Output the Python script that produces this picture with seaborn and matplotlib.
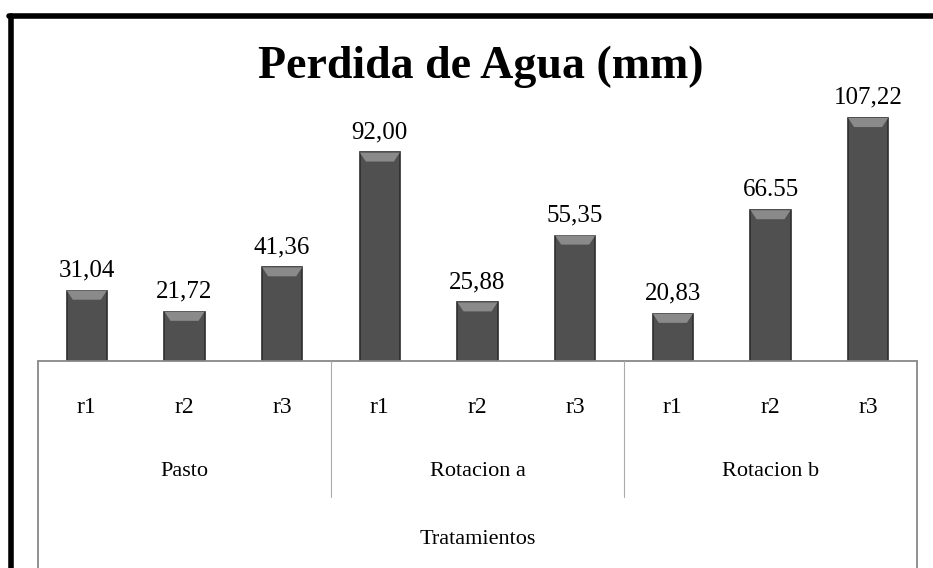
#!/usr/bin/env python3

from matplotlib import pyplot as plt
from matplotlib.lines import Line2D
import numpy as np
import pandas as pd
import seaborn as sns

groups = ['Pasto', 'Rotacion a', 'Rotacion b']
reps = ['r1', 'r2', 'r3']
values = [31.04, 21.72, 41.36, 92.00, 25.88, 55.35, 20.83, 66.55, 107.22]
labels = ['31,04', '21,72', '41,36', '92,00', '25,88', '55,35', '20,83', '66.55', '107,22']
axis_title = 'Tratamientos'

sns.set_style('white')
plt.rcParams['font.family'] = ['Liberation Serif', 'DejaVu Serif']
plt.rcParams['text.color'] = 'black'
plt.rcParams['xtick.color'] = 'black'

df = pd.DataFrame({
    'slot': [g + ' ' + r for g in groups for r in reps],
    'value': values,
})

W, H = 933, 568
fig = plt.figure(figsize=(W / 100, H / 100), dpi=100)
ax = fig.add_axes([38 / W, (H - 361) / H, 879 / W, 301 / H])

sns.barplot(data=df, x='slot', y='value', color='#505050', width=0.41,
            edgecolor='#2e2e2e', linewidth=1.2, saturation=1, ax=ax)

# light bevel strip on top of each bar
for p in ax.patches:
    x0, w, h = p.get_x(), p.get_width(), p.get_height()
    ax.fill([x0, x0 + w, x0 + w * 0.85, x0 + w * 0.15],
            [h, h, h - 4, h - 4], color='#8a8a8a', lw=0, zorder=3)

for i, lab in enumerate(labels):
    ax.text(i, values[i] + 4, lab, ha='center', va='bottom', fontsize=18)

ax.set_xlim(-0.5, 8.5)
ax.set_ylim(0, 132.8)
ax.set_xlabel('')
ax.set_ylabel('')
ax.set_yticks([])
ax.set_xticks(range(9))
ax.set_xticklabels(reps * 3, fontsize=17)
ax.tick_params(axis='x', length=0, pad=26)
sns.despine(ax=ax, left=True, right=True, top=True, bottom=True)

# category table under the axis
grey = '#888888'
kw = dict(transform=ax.transAxes, color=grey, lw=1.3, clip_on=False)
ax.add_line(Line2D([0, 1], [0, 0], **kw))
ax.add_line(Line2D([0, 0], [0, -0.7], **kw))
ax.add_line(Line2D([1, 1], [0, -0.7], **kw))
for xd in (1 / 3, 2 / 3):
    ax.add_line(Line2D([xd, xd], [0, -136 / 301], lw=0.8, transform=ax.transAxes,
                       color='#aaaaaa', clip_on=False))
for k, g in enumerate(groups):
    ax.text((k + 0.5) / 3, -111 / 301, g, transform=ax.transAxes,
            ha='center', va='center', fontsize=16)
ax.text(0.5, -179 / 301, axis_title, transform=ax.transAxes,
        ha='center', va='center', fontsize=16)

fig.text(0.515, 1 - 67 / H, 'Perdida de Agua (mm)', ha='center', va='center',
         fontsize=33, fontweight='bold')

# outer frame (left and top only are visible)
fig.add_artist(Line2D([10.5 / W, 10.5 / W], [0, 1 - 15.5 / H], color='black', lw=4))
fig.add_artist(Line2D([8.5 / W, 1], [1 - 15.5 / H, 1 - 15.5 / H], color='black', lw=4))

plt.savefig('out.png', dpi=100)
